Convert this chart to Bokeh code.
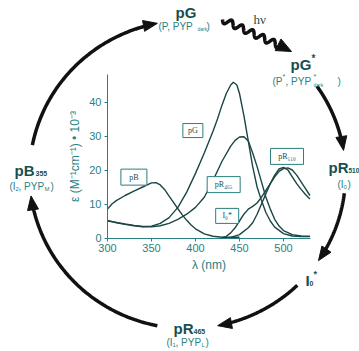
import numpy as np
from bokeh.plotting import figure
from bokeh.models import Range1d, LinearAxis, FixedTicker
from bokeh.embed import file_html
from bokeh.resources import INLINE
from bokeh.core.properties import value

# ---------------- data ----------------
wl_pG = [300, 310, 320, 330, 340, 350, 360, 370, 380, 390, 400, 410, 420, 425, 430,
         435, 440, 443, 447, 450, 455, 460, 465, 470, 475, 480, 485, 490, 500, 510, 520, 530]
eps_pG = [5.0, 4.6, 4.1, 3.7, 3.4, 3.5, 4.3, 6.0, 9.0, 13.5, 19.0, 25.0, 31.5, 35.0, 39.0,
          42.5, 45.0, 45.8, 45.0, 42.5, 36.0, 28.5, 21.0, 15.0, 11.0, 7.5, 5.0, 3.2, 1.3, 0.6, 0.4, 0.4]

wl_pR465 = [300, 310, 320, 330, 340, 350, 360, 370, 380, 390, 400, 410, 420, 430, 440, 445,
            450, 455, 460, 465, 470, 475, 480, 485, 490, 495, 500, 510, 520, 530]
eps_pR465 = [5.2, 4.5, 4.0, 3.6, 3.3, 3.3, 3.6, 4.3, 5.5, 7.0, 9.0, 12.0, 17.0, 22.5, 27.0, 28.7,
             29.7, 29.8, 28.5, 25.0, 21.0, 16.5, 12.0, 8.5, 5.5, 3.5, 2.2, 1.0, 0.6, 0.5]

wl_pB = [300, 305, 310, 320, 330, 340, 350, 355, 360, 365, 370, 375, 380, 385, 390, 395,
         400, 410, 420, 430, 440, 450]
eps_pB = [8.5, 10.0, 11.0, 12.5, 13.8, 15.0, 16.2, 16.3, 15.6, 14.2, 12.3, 10.5, 8.6, 6.8, 5.2, 3.8,
          2.7, 1.2, 0.5, 0.2, 0.2, 0.2]

wl_I0s = [430, 435, 440, 445, 450, 455, 460, 465, 470, 475, 480, 485, 490, 495, 500, 505,
          510, 515, 520, 525, 530]
eps_I0s = [0.1, 0.5, 1.5, 3.0, 5.0, 7.0, 8.5, 9.3, 10.3, 12.0, 14.0, 16.0, 18.0, 19.6, 20.4, 20.6,
           20.0, 18.5, 16.5, 14.5, 12.5]

wl_pR510 = [440, 450, 460, 465, 470, 475, 480, 485, 490, 495, 500, 505, 510, 515, 520, 525, 530]
eps_pR510 = [0.2, 1.0, 3.0, 4.5, 7.0, 10.0, 13.0, 16.0, 18.5, 20.3, 20.8, 20.0, 18.0, 16.0, 14.3, 12.8, 11.5]

tick_nm = [300, 350, 400, 450, 500]
tick_eps = [0, 10, 20, 30, 40]
x_label = "λ (nm)"
y_label = "ε (M⁻¹cm⁻¹) • 10⁻³"

box_labels = ["pG", "pB", "pR₄₆₅", "I₀*", "pR₅₁₀"]
box_nm = [397, 330, 432, 436, 504]
box_eps = [31.6, 17.9, 15.7, 6.5, 24.0]

# ---------------- layout / style ----------------
W, H = 359, 351
PX0, PXS = 107.0, 0.88      # page px of 300 nm, px per nm
PY0, PYS = 237.5, 3.4       # page px of eps 0, px per unit
TEAL = "#2a7f7f"
DTEAL = "#174f50"
CURVE = "#1c4646"
BLACK = "#111111"

p = figure(width=W, height=H, x_range=Range1d(0, W), y_range=Range1d(H, 0),
           x_axis_type=None, y_axis_type=None, toolbar_location=None,
           output_backend="svg", min_border=0, outline_line_color=None)
p.min_border_left = p.min_border_right = p.min_border_top = p.min_border_bottom = 0
p.extra_x_ranges = {"nm": Range1d(300 - PX0 / PXS, 300 + (W - PX0) / PXS)}
p.extra_y_ranges = {"eps": Range1d((PY0 - H) / PYS, PY0 / PYS)}

# spectra
for wl, ep in [(wl_pB, eps_pB), (wl_pR465, eps_pR465), (wl_pG, eps_pG),
               (wl_I0s, eps_I0s), (wl_pR510, eps_pR510)]:
    p.line(wl, ep, x_range_name="nm", y_range_name="eps", line_color=CURVE, line_width=1.4)

# label boxes
box_w = [20, 26, 33, 23, 33]
box_h = [14, 16, 16, 15, 16]
p.rect(x=box_nm, y=box_eps, width=box_w, height=box_h, width_units="screen",
       height_units="screen", fill_color="white", line_color=TEAL, line_width=1,
       x_range_name="nm", y_range_name="eps")
p.text(x=box_nm, y=box_eps, text=box_labels, x_range_name="nm", y_range_name="eps",
       text_align="center", text_baseline="middle", text_font=value("Liberation Serif"),
       text_font_size="8px", text_color=DTEAL)

# axes
xaxis = LinearAxis(x_range_name="nm", y_range_name="eps", fixed_location=0,
                   bounds=(300, 531), ticker=FixedTicker(ticks=tick_nm), axis_label=x_label)
yaxis = LinearAxis(x_range_name="nm", y_range_name="eps", fixed_location=300,
                   bounds=(0, 48), ticker=FixedTicker(ticks=tick_eps), axis_label=y_label)
for ax in (xaxis, yaxis):
    ax.axis_line_color = TEAL
    ax.major_tick_line_color = TEAL
    ax.major_tick_out = 3
    ax.major_tick_in = 0
    ax.minor_tick_line_color = None
    ax.major_label_text_font = "Liberation Sans"
    ax.major_label_text_font_size = "11px"
    ax.major_label_text_color = TEAL
    ax.axis_label_text_font = "Liberation Sans"
    ax.axis_label_text_font_size = "12px"
    ax.axis_label_text_font_style = "normal"
    ax.axis_label_text_color = TEAL
xaxis.major_label_standoff = 3
xaxis.axis_label_standoff = 2
yaxis.major_label_standoff = 3
yaxis.axis_label_standoff = 4
p.add_layout(xaxis, "below")
p.add_layout(yaxis, "left")

# cycle arrows on an ellipse (page pixel coordinates)
CX, CY, RX, RY = 187.0, 174.0, 158.0, 154.0
def ell(t):
    r = np.radians(t)
    return CX + RX * np.cos(r), CY - RY * np.sin(r)

arcs = [(169, 101), (35, 9), (-7, -34), (-46, -79), (259, 188)]
HL, HW = 14.0, 11.0
arc_xs, arc_ys, head_xs, head_ys = [], [], [], []
for a0, a1 in arcs:
    tip = np.array(ell(a1))
    r = np.radians(a1)
    u = np.array([RX * np.sin(r), RY * np.cos(r)])
    u /= np.linalg.norm(u)
    base = tip - HL * u
    nv = np.array([-u[1], u[0]])
    c1 = base + HW / 2 * nv
    c2 = base - HW / 2 * nv
    head_xs.append([tip[0], c1[0], c2[0]])
    head_ys.append([tip[1], c1[1], c2[1]])
    a_end = a1 + np.degrees((HL - 3) / 156.0)
    ts = np.linspace(a0, a_end, 80)
    xx, yy = ell(ts)
    arc_xs.append(list(xx))
    arc_ys.append(list(yy))

# wavy h-nu arrow
S = np.array([222.0, 19.0]); E = np.array([280.0, 45.5]); T = np.array([291.0, 51.0])
d = E - S; L = np.linalg.norm(d); u = d / L; nv = np.array([-u[1], u[0]])
tt = np.linspace(0, 1, 200)
wav = S[None, :] + (tt * L)[:, None] * u[None, :] + (3.2 * np.sin(2 * np.pi * 5.5 * tt))[:, None] * nv[None, :]
arc_xs.append(list(wav[:, 0])); arc_ys.append(list(wav[:, 1]))
ut = (T - E) / np.linalg.norm(T - E); nt = np.array([-ut[1], ut[0]])
bse = T - 15 * ut
head_xs.append([T[0], (bse + 6.5 * nt)[0], (bse - 6.5 * nt)[0]])
head_ys.append([T[1], (bse + 6.5 * nt)[1], (bse - 6.5 * nt)[1]])

p.multi_line(arc_xs, arc_ys, line_color=BLACK, line_width=3.5)
p.patches(head_xs, head_ys, fill_color=BLACK, line_color=BLACK, line_width=1)

# cycle texts: (text, x, y, size, bold, color)
runs = [
    ("pG", 175, 12, 15, True, DTEAL),
    ("(P, PYP", 158, 26, 10, False, TEAL), ("dark", 197, 28, 5, False, TEAL), (")", 206, 26, 10, False, TEAL),
    ("hν", 253, 19, 13, False, DTEAL),
    ("pG", 290, 64, 15, True, DTEAL), ("*", 311, 58, 10, True, DTEAL),
    ("(P", 272, 81, 10, False, TEAL), ("*", 282, 76, 7, False, TEAL), (", PYP", 285, 81, 10, False, TEAL),
    ("*", 313, 76, 7, False, TEAL), ("dark", 313, 84, 5, False, TEAL), (")", 337, 81, 10, False, TEAL),
    ("pR", 328, 167, 15, True, DTEAL), ("510", 348, 170, 6.5, True, DTEAL),
    ("(I", 337, 184, 10, False, TEAL), ("0", 343, 186, 6, False, TEAL), (")", 347, 184, 10, False, TEAL),
    ("I", 305, 280, 15, True, DTEAL), ("0", 309, 283, 7, True, DTEAL), ("*", 313, 273, 9, True, DTEAL),
    ("pR", 173, 328, 15, True, DTEAL), ("465", 193, 331, 7, True, DTEAL),
    ("(I", 166, 342, 10, False, TEAL), ("1", 172, 344, 6, False, TEAL), (", PYP", 175, 342, 10, False, TEAL),
    ("L", 201, 344, 6, False, TEAL), (")", 205, 342, 10, False, TEAL),
    ("pB", 14, 170, 15, True, DTEAL), ("355", 35, 173, 7, True, DTEAL),
    ("(I", 9, 186, 10, False, TEAL), ("2", 15, 188, 6, False, TEAL), (", PYP", 18, 186, 10, False, TEAL),
    ("M", 44, 188, 6, False, TEAL), (")", 50, 186, 10, False, TEAL),
]
for txt, x, y, sz, bold, col in runs:
    font = "Liberation Serif" if txt == "hν" else "Liberation Sans"
    p.text(x=[x], y=[y], text=[txt], text_align="left", text_baseline="alphabetic",
           text_font=value(font), text_font_size=f"{sz}px",
           text_font_style="bold" if bold else "normal", text_color=col)

open("out.html", "w").write(file_html(p, INLINE))
